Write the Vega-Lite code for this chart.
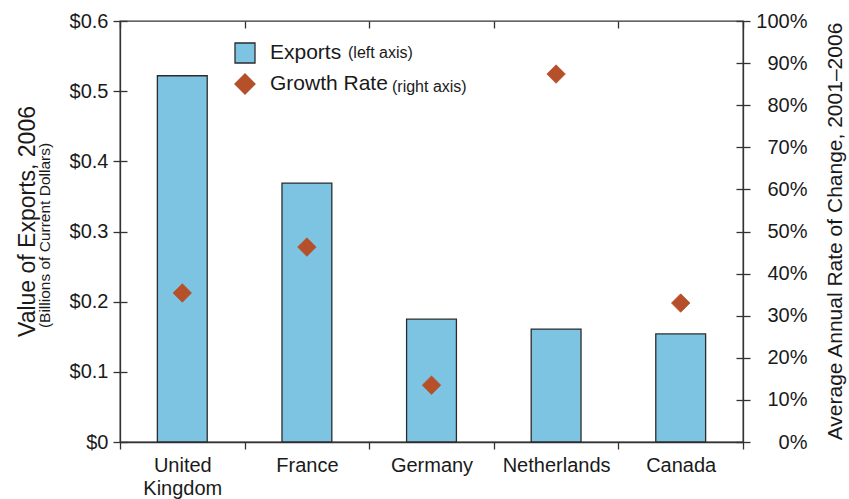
{
  "$schema": "https://vega.github.io/schema/vega-lite/v6.json",
  "width": 623,
  "height": 421,
  "autosize": "none",
  "padding": {"left": 120, "top": 21, "right": 106, "bottom": 57},
  "background": "white",
  "config": {
    "font": "Liberation Sans",
    "view": {"stroke": "#333333", "strokeWidth": 1.3},
    "axis": {
      "grid": false,
      "domainColor": "#333333",
      "tickColor": "#333333",
      "domainWidth": 1.3,
      "tickWidth": 1.3,
      "labelFont": "Liberation Sans",
      "titleFont": "Liberation Sans",
      "labelColor": "#1a1a1a",
      "titleColor": "#1a1a1a",
      "titleFontWeight": "normal"
    },
    "legend": {"labelFont": "Liberation Sans", "labelColor": "#1a1a1a"}
  },
  "data": {
    "values": [
      {"country": "United Kingdom", "exports": 0.522, "growth": 35.4},
      {"country": "France", "exports": 0.369, "growth": 46.3},
      {"country": "Germany", "exports": 0.175, "growth": 13.5},
      {"country": "Netherlands", "exports": 0.161, "growth": 87.4},
      {"country": "Canada", "exports": 0.154, "growth": 33.0}
    ]
  },
  "layer": [
    {
      "mark": {"type": "bar", "width": {"band": 0.4}, "strokeWidth": 1.3, "opacity": 1},
      "encoding": {
        "x": {
          "field": "country", "type": "nominal", "sort": null,
          "scale": {"paddingInner": 0, "paddingOuter": 0},
          "axis": {
            "title": null, "labelAngle": 0, "labelFontSize": 20, "tickBand": "extent",
            "tickSize": 7, "labelPadding": 6, "labelLineHeight": 23,
            "labelExpr": "datum.value == 'United Kingdom' ? ['United', 'Kingdom'] : datum.value"
          }
        },
        "y": {
          "field": "exports", "type": "quantitative",
          "scale": {"domain": [0, 0.6], "nice": false},
          "axis": {
            "orient": "left", "values": [0, 0.1, 0.2, 0.3, 0.4, 0.5, 0.6],
            "labelExpr": "datum.value == 0 ? '$0' : '$' + format(datum.value, '.1f')",
            "labelFontSize": 20, "tickSize": 7, "labelPadding": 5,
            "title": "Value of Exports, 2006", "titleFontSize": 23, "titleAngle": 270,
            "titleAlign": "center", "titleBaseline": "alphabetic", "titleX": -86, "titleY": 200
          }
        },
        "color": {
          "datum": "Exports", "type": "nominal",
          "scale": {"domain": ["Exports", "Growth Rate"], "range": ["#7CC4E2", "#B5502A"]},
          "legend": {
            "orient": "none", "legendX": 114, "legendY": 21, "title": null,
            "labelFontSize": 21, "symbolSize": 400, "labelOffset": 14, "rowPadding": 5,
            "symbolStrokeWidth": 1.3, "direction": "vertical"
          }
        },
        "stroke": {
          "datum": "Exports", "type": "nominal",
          "scale": {"domain": ["Exports", "Growth Rate"], "range": ["#2b2b2b", "#B5502A"]},
          "legend": {
            "orient": "none", "legendX": 114, "legendY": 21, "title": null,
            "labelFontSize": 21, "symbolSize": 400, "labelOffset": 14, "rowPadding": 5,
            "symbolStrokeWidth": 1.3, "direction": "vertical"
          }
        },
        "strokeDash": {
          "datum": "(left axis)", "type": "nominal",
          "scale": {"domain": ["(left axis)"], "range": [[1, 0]]},
          "legend": {
            "orient": "none", "legendX": 212, "legendY": 24, "title": null,
            "labelFontSize": 16, "symbolSize": 0, "symbolOpacity": 0, "symbolStrokeWidth": 0,
            "labelOffset": 0, "direction": "vertical"
          }
        }
      }
    },
    {
      "mark": {"type": "point", "shape": "diamond", "filled": true, "size": 340, "strokeWidth": 0.8, "opacity": 1},
      "encoding": {
        "x": {"field": "country", "type": "nominal", "sort": null, "axis": null},
        "y": {
          "field": "growth", "type": "quantitative",
          "scale": {"domain": [0, 100], "nice": false},
          "axis": {
            "orient": "right", "values": [0, 10, 20, 30, 40, 50, 60, 70, 80, 90, 100],
            "labelExpr": "datum.value + '%'", "labelFontSize": 20, "tickSize": 7,
            "labelAlign": "right", "labelPadding": 57,
            "title": "Average Annual Rate of Change, 2001–2006", "titleFontSize": 21,
            "titleAngle": 270, "titleAlign": "center", "titleBaseline": "alphabetic",
            "titleX": 98, "titleY": 210
          }
        },
        "color": {"datum": "Growth Rate", "type": "nominal"},
        "stroke": {"datum": "Growth Rate", "type": "nominal"},
        "shape": {
          "datum": "Growth Rate", "type": "nominal",
          "scale": {"domain": ["Exports", "Growth Rate"], "range": ["square", "diamond"]},
          "legend": {
            "orient": "none", "legendX": 114, "legendY": 21, "title": null,
            "labelFontSize": 21, "symbolSize": 400, "labelOffset": 14, "rowPadding": 5,
            "symbolStrokeWidth": 1.3, "direction": "vertical"
          }
        },
        "opacity": {
          "datum": "(right axis)", "type": "nominal",
          "scale": {"domain": ["(right axis)"], "range": [1, 1]},
          "legend": {
            "orient": "none", "legendX": 256, "legendY": 58, "title": null,
            "labelFontSize": 16, "symbolSize": 0, "symbolOpacity": 0, "symbolStrokeWidth": 0,
            "symbolFillColor": "transparent", "symbolStrokeColor": "transparent",
            "labelOffset": 0, "direction": "vertical"
          }
        }
      }
    },
    {
      "mark": {"type": "bar", "opacity": 0},
      "encoding": {
        "x": {
          "field": "country", "type": "nominal", "sort": null,
          "axis": {"title": null, "labels": false, "domain": false, "tickBand": "extent", "tickSize": -7}
        },
        "y": {
          "field": "exports", "type": "quantitative",
          "scale": {"domain": [0, 0.6], "nice": false},
          "axis": {
            "orient": "left", "values": [0, 0.1, 0.2, 0.3, 0.4, 0.5, 0.6],
            "labels": false, "domain": false, "tickSize": -7,
            "title": "(Billions of Current Dollars)", "titleFontSize": 15.5, "titleAngle": 270,
            "titleAlign": "center", "titleBaseline": "alphabetic", "titleX": -71, "titleY": 214
          }
        }
      }
    },
    {
      "mark": {"type": "point", "opacity": 0},
      "encoding": {
        "x": {"field": "country", "type": "nominal", "sort": null, "axis": null},
        "y": {
          "field": "growth", "type": "quantitative",
          "scale": {"domain": [0, 100], "nice": false},
          "axis": {
            "orient": "right", "values": [0, 10, 20, 30, 40, 50, 60, 70, 80, 90, 100],
            "labels": false, "domain": false, "tickSize": -7, "title": null
          }
        }
      }
    }
  ],
  "resolve": {"scale": {"y": "independent"}, "axis": {"x": "independent"}}
}
